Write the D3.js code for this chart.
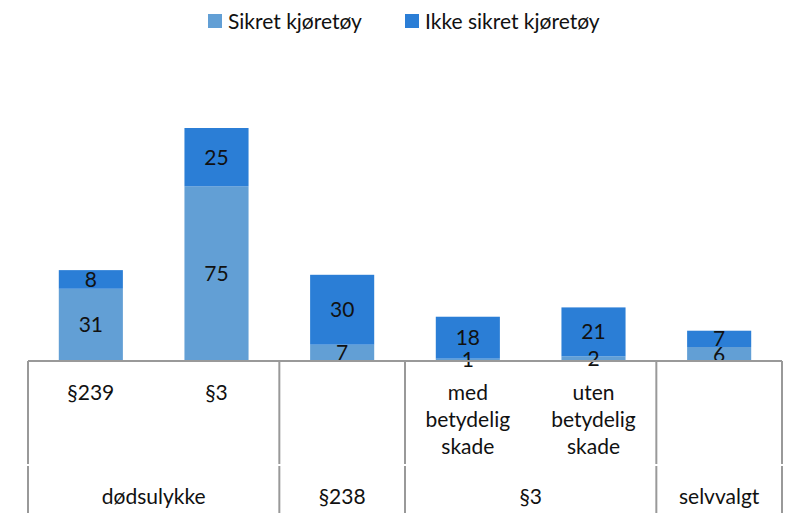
<!DOCTYPE html>
<html lang="no">
<head>
  <meta charset="UTF-8">
  <title>Sikret / ikke sikret kjøretøy</title>
  <script src="https://d3js.org/d3.v7.min.js"></script>
  <style>
    body {
      margin: 0;
      background: #fff;
      font-family: Lato, "Open Sans", sans-serif;
    }
    .lbl {
      font-size: 21px;
      fill: #111;
    }
    .grid {
      stroke: #999;
      stroke-width: 2;
    }
  </style>
</head>
<body>
  <svg width="798" height="520"></svg>

  <script>
    // categories (inner level) and their outer groups
    const categories = ["§239", "§3", "", "med betydelig skade", "uten betydelig skade", ""];
    const groups = [
      { name: "dødsulykke", from: 0, to: 1 },
      { name: "§238", from: 2, to: 2 },
      { name: "§3", from: 3, to: 4 },
      { name: "selvvalgt", from: 5, to: 5 }
    ];
    const seriesNames = ["Sikret kjøretøy", "Ikke sikret kjøretøy"];
    const sikret = [31, 75, 7, 1, 2, 6];
    const ikkeSikret = [8, 25, 30, 18, 21, 7];
    const colors = ["#629fd5", "#2b7ed6"];

    const svg = d3.select("svg");
    const left = 28, right = 782, base = 361, row1 = 465, bottom = 513;

    const x = d3.scaleBand().domain(d3.range(categories.length)).range([left, right]).paddingInner(0.49).paddingOuter(0.245);
    const xCell = d3.scaleBand().domain(d3.range(categories.length)).range([left, right]);
    const y = d3.scaleLinear().domain([0, 100]).range([base, 128]);

    const table = categories.map((c, i) => ({ i: i, a: sikret[i], b: ikkeSikret[i] }));
    const stack = d3.stack().keys(["a", "b"])(table);

    // bars
    stack.forEach((layer, k) => {
      svg.append("g").selectAll("rect")
        .data(layer)
        .enter()
        .append("rect")
        .attr("x", d => x(d.data.i))
        .attr("width", x.bandwidth())
        .attr("y", d => y(d[1]))
        .attr("height", d => y(d[0]) - y(d[1]))
        .attr("fill", colors[k]);
    });

    // value labels
    stack.forEach(layer => {
      svg.append("g").selectAll("text")
        .data(layer)
        .enter()
        .append("text")
        .attr("class", "lbl")
        .attr("text-anchor", "middle")
        .attr("x", d => x(d.data.i) + x.bandwidth() / 2)
        .attr("y", d => (y(d[0]) + y(d[1])) / 2)
        .attr("dy", "0.36em")
        .text(d => d[1] - d[0]);
    });

    // axis line and group separators
    svg.append("line").attr("class", "grid")
      .attr("x1", left).attr("x2", right).attr("y1", base).attr("y2", base);

    const bounds = [left].concat(groups.map(g => xCell(g.to) + xCell.bandwidth()));
    svg.append("g").selectAll("line")
      .data(bounds)
      .enter()
      .append("line")
      .attr("class", "grid")
      .attr("x1", d => d).attr("x2", d => d)
      .attr("y1", base).attr("y2", row1 - 1);
    svg.append("g").selectAll("line")
      .data(bounds)
      .enter()
      .append("line")
      .attr("class", "grid")
      .attr("x1", d => d).attr("x2", d => d)
      .attr("y1", row1 + 1).attr("y2", bottom);

    // inner category labels, wrapped one word per line for long names
    categories.forEach((c, i) => {
      const words = c.split(" ");
      const t = svg.append("text")
        .attr("class", "lbl")
        .attr("text-anchor", "middle")
        .attr("x", xCell(i) + xCell.bandwidth() / 2)
        .attr("y", 400);
      words.forEach((w, j) => {
        t.append("tspan")
          .attr("x", xCell(i) + xCell.bandwidth() / 2)
          .attr("dy", j === 0 ? 0 : 27)
          .text(w);
      });
    });

    // outer group labels
    svg.append("g").selectAll("text")
      .data(groups)
      .enter()
      .append("text")
      .attr("class", "lbl")
      .attr("text-anchor", "middle")
      .attr("x", g => (xCell(g.from) + xCell(g.to) + xCell.bandwidth()) / 2)
      .attr("y", 504)
      .text(g => g.name);

    // legend
    const legendX = [208, 405];
    const legend = svg.append("g").selectAll("g")
      .data(seriesNames)
      .enter()
      .append("g")
      .attr("transform", (d, i) => `translate(${legendX[i]},14)`);
    legend.append("rect")
      .attr("width", 14).attr("height", 14)
      .attr("fill", (d, i) => colors[i]);
    legend.append("text")
      .attr("class", "lbl")
      .attr("x", 20).attr("y", 7).attr("dy", "0.36em")
      .text(d => d);
  </script>
</body>
</html>
